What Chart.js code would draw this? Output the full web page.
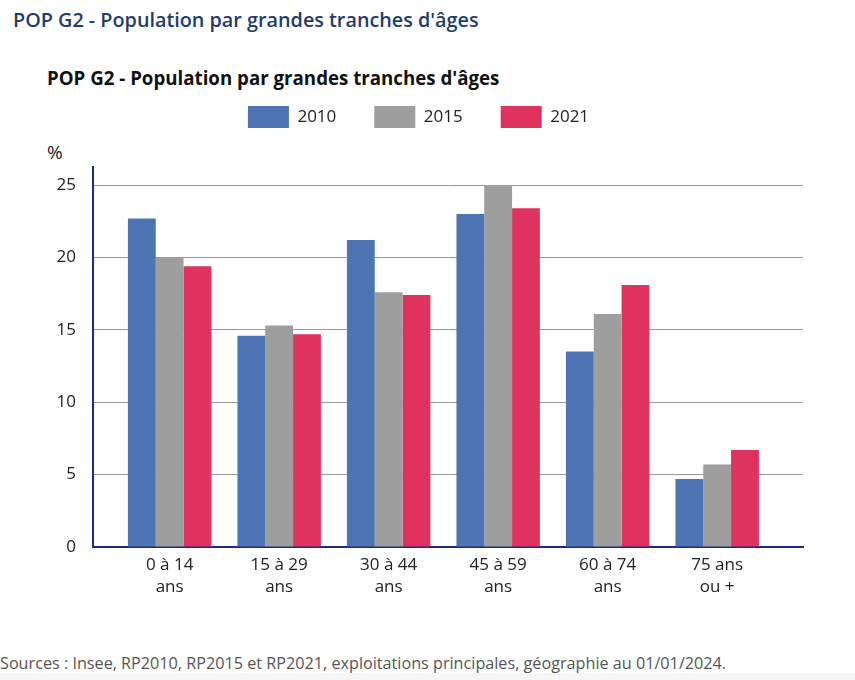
<!DOCTYPE html>
<html lang="fr">
<head>
<meta charset="utf-8">
<script src="https://cdn.jsdelivr.net/npm/chart.js@4.4.1/dist/chart.umd.min.js"></script>
<style>
  body { margin: 0; background: #fff; font-family: "Open Sans", sans-serif; }
  #page { position: relative; width: 855px; height: 680px; overflow: hidden; }
  #pageTitle { position: absolute; left: 13px; top: 6px; font-size: 19.8px; font-weight: 600; color: #1f3c6e; white-space: nowrap; }
  #chartTitle { position: absolute; left: 47px; top: 65px; font-size: 18.7px; font-weight: 700; color: #111; white-space: nowrap; }
  #unit { position: absolute; left: 47px; top: 139px; font-size: 19px; color: #222; }
  #wrap { position: absolute; left: 0; top: 0; width: 855px; height: 620px; }
  #source { position: absolute; left: 0; top: 652px; font-size: 16.2px; color: #555; white-space: nowrap; }
  #band { position: absolute; left: 0; top: 673px; width: 855px; height: 7px; background: #f6f6f6; }
</style>
</head>
<body>
<div id="page">
  <div id="pageTitle">POP G2 - Population par grandes tranches d'âges</div>
  <div id="chartTitle">POP G2 - Population par grandes tranches d'âges</div>
  <div id="unit">%</div>
  <div id="wrap"><canvas id="chart"></canvas></div>
  <div id="source">Sources : Insee, RP2010, RP2015 et RP2021, exploitations principales, géographie au 01/01/2024.</div>
  <div id="band"></div>
</div>
<script>
// age groups (tick labels, split on two lines)
const categories = [
    ['0 à 14', 'ans'],
    ['15 à 29', 'ans'],
    ['30 à 44', 'ans'],
    ['45 à 59', 'ans'],
    ['60 à 74', 'ans'],
    ['75 ans', 'ou +']
];
const years = ['2010', '2015', '2021'];
const values2010 = [22.7, 14.6, 21.2, 23.0, 13.5, 4.7];
const values2015 = [20.0, 15.3, 17.6, 25.0, 16.1, 5.7];
const values2021 = [19.4, 14.7, 17.4, 23.4, 18.1, 6.7];
const colors = ['#4f74b3', '#9e9e9e', '#e0325f'];

const toPoints = arr => arr.map((v, i) => ({ x: i, y: v }));

// legend: extra space below it, and nudged a little to the right
const legendTweak = {
    id: 'legendTweak',
    beforeInit(chart) {
        const fit = chart.legend.fit;
        chart.legend.fit = function () {
            fit.bind(chart.legend)();
            this.height += 29;
        };
    },
    afterLayout(chart) {
        chart.legend.left += 17;
        chart.legend.right += 17;
    }
};

const axisColor = '#1c2a80';

new Chart(document.getElementById('chart'), {
    type: 'bar',
    data: {
        datasets: [
            { label: years[0], data: toPoints(values2010), backgroundColor: colors[0] },
            { label: years[1], data: toPoints(values2015), backgroundColor: colors[1] },
            { label: years[2], data: toPoints(values2021), backgroundColor: colors[2] }
        ]
    },
    options: {
        responsive: true,
        maintainAspectRatio: false,
        animation: false,
        layout: { padding: { top: 68, left: 0, right: 52, bottom: 13 } },
        datasets: {
            bar: { barPercentage: 1, categoryPercentage: 0.762, borderWidth: 0 }
        },
        scales: {
            x: {
                type: 'linear',
                min: -0.70,
                max: 5.784,
                offset: false,
                grid: { display: false, drawTicks: false },
                border: { display: true, color: axisColor, width: 2 },
                afterFit: s => { s.height = 60; },
                ticks: {
                    stepSize: 1,
                    includeBounds: false,
                    autoSkip: false,
                    maxRotation: 0,
                    padding: 7,
                    color: '#222',
                    font: { family: 'Open Sans', size: 17, lineHeight: 1.3 },
                    callback: v => Number.isInteger(v) && categories[v] ? categories[v] : ''
                }
            },
            y: {
                min: 0,
                max: 26.25,
                grid: { color: '#9a9a9a', lineWidth: 1, drawTicks: false },
                border: { display: true, color: axisColor, width: 2 },
                afterFit: s => { s.width = 93; },
                ticks: {
                    stepSize: 5,
                    includeBounds: false,
                    padding: 17,
                    color: '#222',
                    font: { family: 'Open Sans', size: 17 }
                }
            }
        },
        plugins: {
            legend: {
                position: 'top',
                labels: {
                    boxWidth: 41,
                    boxHeight: 22,
                    padding: 38,
                    color: '#222',
                    font: { family: 'Open Sans', size: 17 }
                }
            },
            tooltip: { enabled: false }
        }
    },
    plugins: [legendTweak]
});
</script>
</body>
</html>
